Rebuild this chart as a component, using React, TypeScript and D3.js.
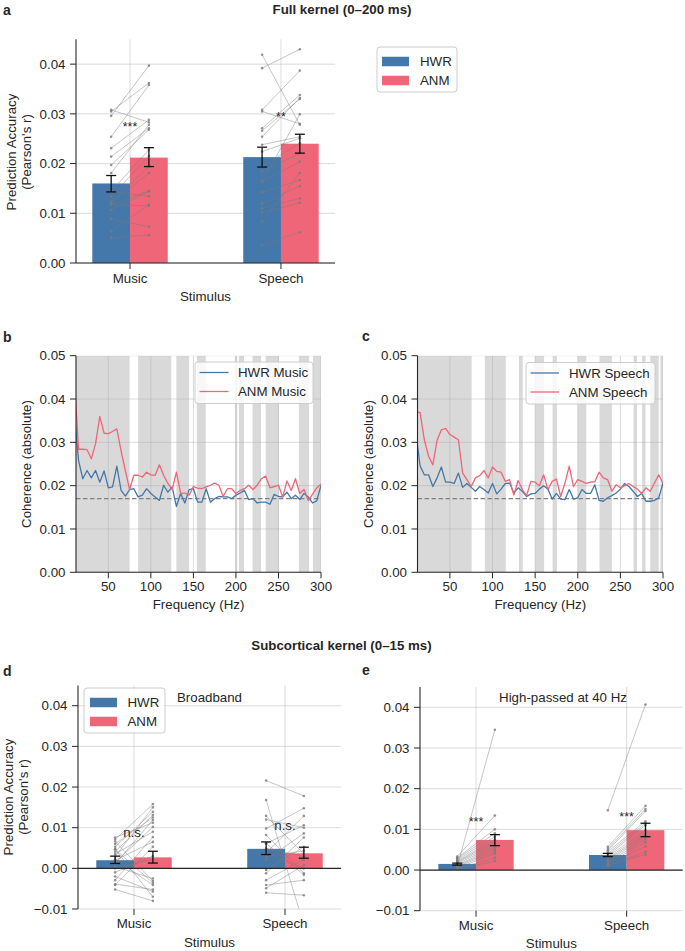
import { useEffect, useRef } from 'react';
import * as d3 from 'd3';

const FONT = "'Liberation Sans', Arial, Helvetica, sans-serif";
const HWR_COLOR = '#4477AA';
const ANM_COLOR = '#EE6677';
const GRID = '#b0b0b0';
const INK = '#262626';
const FS = 13.3;

const stimuli = ['Music', 'Speech'];
const models = ['HWR', 'ANM'];

// ---- a: full kernel (0–200 ms)
const fullHwrMean = [0.016, 0.0213];
const fullAnmMean = [0.0212, 0.024];
const fullHwrCi = [[0.0143, 0.0176], [0.0193, 0.0233]];
const fullAnmCi = [[0.0194, 0.0232], [0.0221, 0.0259]];
// [HWR, ANM] per subject
const fullMusicSubj = [
  [0.0305, 0.0362], [0.0308, 0.0283], [0.0296, 0.0397], [0.0254, 0.0358], [0.0231, 0.0288],
  [0.0214, 0.0271], [0.0197, 0.0268], [0.0181, 0.0278], [0.0144, 0.0228], [0.0134, 0.0215],
  [0.0123, 0.0194], [0.012, 0.0181], [0.0117, 0.0145], [0.0107, 0.0144], [0.0089, 0.0073],
  [0.0064, 0.0117], [0.0051, 0.0056], [0.0144, 0.0134], [0.0117, 0.0115],
];
const fullSpeechSubj = [
  [0.0419, 0.0278], [0.0392, 0.043], [0.0308, 0.0387], [0.0305, 0.028], [0.0271, 0.0338],
  [0.0266, 0.033], [0.0254, 0.0332], [0.0238, 0.0254], [0.0224, 0.0251], [0.0194, 0.0241],
  [0.0184, 0.0221], [0.0164, 0.0204], [0.0142, 0.0167], [0.012, 0.0155], [0.011, 0.013],
  [0.0101, 0.0121], [0.0083, 0.0181], [0.0036, 0.0062], [0.0164, 0.0299],
];
const fullMarks = ['***', '**'];
const fullMarkAt = [0.0265, 0.0285];

// ---- b, c: coherence
const freqs = [
  10, 15, 20, 25, 30, 35, 40, 45, 50, 55, 60, 65, 70, 75, 80, 85, 90, 95, 100, 105, 110, 115, 120,
  125, 130, 135, 140, 145, 150, 155, 160, 165, 170, 175, 180, 185, 190, 195, 200, 205, 210, 215,
  220, 225, 230, 235, 240, 245, 250, 255, 260, 265, 270, 275, 280, 285, 290, 295, 300,
];
const hwrMusicCoh = [
  0.037, 0.0258, 0.0216, 0.0235, 0.0218, 0.0235, 0.0208, 0.0234, 0.0195, 0.0197, 0.0245, 0.0189,
  0.0176, 0.0191, 0.0193, 0.0174, 0.0178, 0.0193, 0.0182, 0.0174, 0.0166, 0.0201, 0.0185, 0.0197,
  0.0152, 0.0182, 0.016, 0.0191, 0.0193, 0.0162, 0.0162, 0.0193, 0.0162, 0.017, 0.0175, 0.0174,
  0.0174, 0.017, 0.0178, 0.0183, 0.0189, 0.0168, 0.017, 0.016, 0.0162, 0.0162, 0.0157, 0.018,
  0.0175, 0.0174, 0.0185, 0.017, 0.0178, 0.0168, 0.0182, 0.0174, 0.016, 0.0165, 0.0201,
];
const anmMusicCoh = [
  0.045, 0.0284, 0.0284, 0.0283, 0.0262, 0.0297, 0.036, 0.0321, 0.032, 0.0325, 0.0331, 0.028,
  0.0235, 0.0191, 0.0224, 0.0224, 0.022, 0.0231, 0.0225, 0.0224, 0.0248, 0.0224, 0.0205, 0.0191,
  0.0231, 0.0182, 0.0183, 0.0178, 0.0198, 0.0194, 0.0193, 0.0197, 0.0201, 0.0206, 0.0201, 0.0175,
  0.0193, 0.0193, 0.0182, 0.0189, 0.0193, 0.0201, 0.0191, 0.0201, 0.0216, 0.0222, 0.0195, 0.0198,
  0.0201, 0.0174, 0.0211, 0.0189, 0.0216, 0.0182, 0.0191, 0.0166, 0.018, 0.0195, 0.0203,
];
const hwrSpeechCoh = [
  0.0325, 0.0246, 0.0225, 0.0225, 0.0198, 0.0218, 0.0243, 0.0208, 0.0208, 0.0205, 0.0229, 0.0196,
  0.0205, 0.0196, 0.0187, 0.0198, 0.0191, 0.0183, 0.0205, 0.0181, 0.0192, 0.0205, 0.0206, 0.0183,
  0.0195, 0.0187, 0.0175, 0.0181, 0.0182, 0.0192, 0.02, 0.0192, 0.0169, 0.0182, 0.0169, 0.0168,
  0.0191, 0.0169, 0.0172, 0.0191, 0.0182, 0.0182, 0.0202, 0.0166, 0.0164, 0.0172, 0.0177, 0.0183,
  0.0192, 0.0205, 0.0198, 0.0187, 0.0175, 0.0182, 0.0164, 0.0164, 0.0166, 0.0172, 0.0206,
];
const anmSpeechCoh = [
  0.0369, 0.0369, 0.0306, 0.0268, 0.0248, 0.0305, 0.0329, 0.0332, 0.0318, 0.0312, 0.0306, 0.0229,
  0.0214, 0.0198, 0.0218, 0.0223, 0.0235, 0.0218, 0.0243, 0.0233, 0.0231, 0.021, 0.0214, 0.0178,
  0.0212, 0.0191, 0.0177, 0.021, 0.0208, 0.02, 0.0225, 0.0191, 0.021, 0.0215, 0.0175, 0.0206,
  0.0245, 0.0198, 0.0214, 0.021, 0.0205, 0.0208, 0.0209, 0.0231, 0.0218, 0.0214, 0.0187, 0.0202,
  0.0195, 0.02, 0.0205, 0.0198, 0.0192, 0.0182, 0.0195, 0.0187, 0.0206, 0.0225, 0.0205,
];
const musicSigBands = [
  [10, 75], [85, 124], [130, 145], [154, 164.5], [199, 201.5], [203.5, 209.5], [219.5, 229.5],
  [235, 250.5], [274, 286], [290.5, 300],
];
const speechSigBands = [
  [10, 75.5], [91, 115.5], [131, 135.5], [150, 160.5], [170.5, 175.5], [200, 210], [225.5, 240],
  [265.5, 269.5], [275.5, 279.5], [285, 295], [297, 300],
];
const chanceLevel = 0.017;
const freqTicks = [50, 100, 150, 200, 250, 300];
const cohTicks = [0, 0.01, 0.02, 0.03, 0.04, 0.05];

// ---- d: subcortical broadband
const broadHwrMean = [0.002, 0.0048];
const broadAnmMean = [0.0027, 0.0037];
const broadHwrCi = [[0.0012, 0.003], [0.0034, 0.0065]];
const broadAnmCi = [[0.0013, 0.0042], [0.0025, 0.0052]];
const broadMusicSubj = [
  [0.0076, 0.0112], [0.0071, 0.0158], [0.0066, -0.0031], [0.006, 0.0125], [0.0053, 0.0139],
  [0.0047, -0.007], [0.0041, 0.0131], [0.0035, 0.009], [0.0029, 0.015], [0.0022, -0.0041],
  [0.0014, 0.0102], [0.0011, 0.0119], [-0.0029, 0.0077], [-0.0039, -0.0052], [-0.0041, 0.0053],
  [-0.0052, -0.008], [0.0004, -0.0025], [-0.001, 0.003], [0.0047, -0.0036], [-0.002, -0.0057],
  [0.0, 0.0022], [0.002, 0.0065],
];
const broadSpeechSubj = [
  [0.0216, 0.0178], [0.0168, -0.014], [0.0129, 0.0035], [0.012, 0.01], [0.0098, 0.0148],
  [0.0082, -0.0012], [0.0061, 0.0106], [0.0049, 0.0029], [0.0038, 0.0129], [0.0029, 0.0043],
  [0.0021, 0.0086], [-0.0004, 0.0053], [-0.0012, 0.0076], [-0.0029, 0.0022], [-0.0041, -0.0029],
  [-0.0049, 0.0008], [-0.006, -0.0066], [0.0038, 0.0], [0.0061, -0.0016],
];
const broadMarks = ['n.s.', 'n.s.'];
const broadMarkAt = [0.0076, 0.0094];

// ---- e: subcortical high-passed at 40 Hz
const hpHwrMean = [0.0015, 0.0037];
const hpAnmMean = [0.0074, 0.0098];
const hpHwrCi = [[0.0012, 0.0017], [0.0033, 0.0041]];
const hpAnmCi = [[0.006, 0.0087], [0.0082, 0.0115]];
const hpMusicSubj = [
  [0.0008, 0.0345], [0.0033, 0.0134], [0.003, 0.01], [0.0028, 0.009], [0.0025, 0.0082],
  [0.0022, 0.0075], [0.002, 0.007], [0.0018, 0.0065], [0.0015, 0.006], [0.0012, 0.0055],
  [0.001, 0.005], [0.0008, 0.0045], [0.0005, 0.004], [0.0003, 0.003], [0.0002, 0.0022],
];
const hpSpeechSubj = [
  [0.0147, 0.0407], [0.0057, 0.0158], [0.0052, 0.015], [0.0048, 0.0145], [0.0045, 0.012],
  [0.004, 0.0115], [0.0036, 0.011], [0.0033, 0.0098], [0.003, 0.009], [0.0027, 0.0085],
  [0.0024, 0.008], [0.002, 0.0075], [0.0017, 0.0068], [0.0014, 0.0058], [0.001, 0.0045],
  [0.0012, 0.0038],
];
const hpMarks = ['***', '***'];
const hpMarkAt = [0.0108, 0.012];

const accTicks = [0, 0.01, 0.02, 0.03, 0.04];
const subTicks = [-0.01, 0, 0.01, 0.02, 0.03, 0.04];

const fmt = (v: number) => d3.format('.2f')(v).replace('-', '\u2212');

function text(g: any, x: number, y: number, s: string, anchor = 'middle', size = FS, weight = 'normal') {
  return g
    .append('text')
    .attr('x', x)
    .attr('y', y)
    .attr('text-anchor', anchor)
    .attr('fill', INK)
    .style('font-size', `${size}px`)
    .style('font-weight', weight)
    .text(s);
}

function rotLabel(g: any, x: number, cy: number, s: string) {
  g.append('text')
    .attr('transform', `translate(${x},${cy}) rotate(-90)`)
    .attr('text-anchor', 'middle')
    .attr('fill', INK)
    .style('font-size', `${FS}px`)
    .text(s);
}

function drawBarPanel(svg: any, c: any) {
  const x = d3.scaleLinear().domain([-c.pad, 1 + c.pad]).range([c.left, c.right]);
  const y = d3.scaleLinear().domain([c.yMin, c.yMax]).range([c.bottom, c.top]);
  const g = svg.append('g');
  const clip = `clip-${c.id}`;
  g.append('clipPath')
    .attr('id', clip)
    .append('rect')
    .attr('x', c.left)
    .attr('y', c.top)
    .attr('width', c.right - c.left)
    .attr('height', c.bottom - c.top);

  // 格線
  c.yTicks.forEach((t: number) => {
    g.append('line')
      .attr('x1', c.left).attr('x2', c.right)
      .attr('y1', y(t)).attr('y2', y(t))
      .attr('stroke', GRID).attr('stroke-opacity', 0.5).attr('stroke-width', 0.9);
  });
  stimuli.forEach((s, i) => {
    g.append('line')
      .attr('x1', x(i)).attr('x2', x(i))
      .attr('y1', c.top).attr('y2', c.bottom)
      .attr('stroke', GRID).attr('stroke-opacity', 0.5).attr('stroke-width', 0.9);
  });

  const series = [
    { vals: c.hwr, ci: c.hwrCi, off: -0.125, color: HWR_COLOR },
    { vals: c.anm, ci: c.anmCi, off: 0.125, color: ANM_COLOR },
  ];
  series.forEach((s) => {
    s.vals.forEach((v: number, i: number) => {
      g.append('rect')
        .attr('x', x(i + s.off - 0.125))
        .attr('width', x(0.25) - x(0))
        .attr('y', Math.min(y(v), y(0)))
        .attr('height', Math.abs(y(v) - y(0)))
        .attr('fill', s.color);
    });
  });

  // 個別受試者
  const sg = g.append('g').attr('clip-path', `url(#${clip})`);
  c.subj.forEach((pairs: number[][], i: number) => {
    pairs.forEach((p) => {
      sg.append('line')
        .attr('x1', x(i - 0.125)).attr('x2', x(i + 0.125))
        .attr('y1', y(p[0])).attr('y2', y(p[1]))
        .attr('stroke', '#7a7a7a').attr('stroke-opacity', 0.55).attr('stroke-width', 0.8);
      p.forEach((v, k) => {
        sg.append('circle')
          .attr('cx', x(i + (k === 0 ? -0.125 : 0.125)))
          .attr('cy', y(v))
          .attr('r', 1.3)
          .attr('fill', '#7a7a7a')
          .attr('fill-opacity', 0.8);
      });
    });
  });

  // 誤差線
  series.forEach((s) => {
    s.ci.forEach((ci: number[], i: number) => {
      const cx = x(i + s.off);
      g.append('line')
        .attr('x1', cx).attr('x2', cx)
        .attr('y1', y(ci[0])).attr('y2', y(ci[1]))
        .attr('stroke', '#111').attr('stroke-width', 1.3);
      ci.forEach((v) => {
        g.append('line')
          .attr('x1', cx - 5).attr('x2', cx + 5)
          .attr('y1', y(v)).attr('y2', y(v))
          .attr('stroke', '#111').attr('stroke-width', 1.3);
      });
    });
  });

  c.marks.forEach((m: string, i: number) => {
    text(g, x(i), y(c.markAt[i]), m, 'middle', m === 'n.s.' ? FS : 12.5);
  });

  // 軸
  g.append('line')
    .attr('x1', c.left).attr('x2', c.right)
    .attr('y1', y(0)).attr('y2', y(0))
    .attr('stroke', INK).attr('stroke-width', 1.2);
  g.append('line')
    .attr('x1', c.left).attr('x2', c.left)
    .attr('y1', c.top).attr('y2', c.bottom)
    .attr('stroke', INK).attr('stroke-width', 1.1);
  c.yTicks.forEach((t: number) => {
    g.append('line')
      .attr('x1', c.left - 6).attr('x2', c.left)
      .attr('y1', y(t)).attr('y2', y(t))
      .attr('stroke', INK).attr('stroke-width', 1);
    text(g, c.left - 10.5, y(t) + FS * 0.35, fmt(t), 'end');
  });
  stimuli.forEach((s, i) => {
    g.append('line')
      .attr('x1', x(i)).attr('x2', x(i))
      .attr('y1', c.bottom).attr('y2', c.bottom + 6)
      .attr('stroke', INK).attr('stroke-width', 1);
    text(g, x(i), c.tickBase, s);
  });
  text(g, (c.left + c.right) / 2, c.labelBase, 'Stimulus');
}

function drawPatchLegend(svg: any, l: any) {
  const g = svg.append('g');
  g.append('rect')
    .attr('x', l.x).attr('y', l.y).attr('width', l.w).attr('height', l.h)
    .attr('rx', 3)
    .attr('fill', 'white').attr('fill-opacity', 0.8)
    .attr('stroke', '#cccccc').attr('stroke-width', 1);
  models.forEach((m, k) => {
    g.append('rect')
      .attr('x', l.patchX).attr('y', l.rows[k] - 4.75)
      .attr('width', 27).attr('height', 9.5)
      .attr('fill', k === 0 ? HWR_COLOR : ANM_COLOR);
    text(g, l.textX, l.rows[k] + FS * 0.35, m, 'start');
  });
}

function drawCohPanel(svg: any, c: any) {
  const x = d3.scaleLinear().domain([12, 300]).range([c.left, c.right]);
  const y = d3.scaleLinear().domain([0, 0.05]).range([c.bottom, c.top]);
  const g = svg.append('g');
  const clip = `clip-${c.id}`;
  g.append('clipPath')
    .attr('id', clip)
    .append('rect')
    .attr('x', c.left).attr('y', c.top)
    .attr('width', c.right - c.left).attr('height', c.bottom - c.top);

  const body = g.append('g').attr('clip-path', `url(#${clip})`);
  c.bands.forEach((b: number[]) => {
    body.append('rect')
      .attr('x', x(b[0])).attr('width', x(b[1]) - x(b[0]))
      .attr('y', c.top).attr('height', c.bottom - c.top)
      .attr('fill', '#d9d9d9');
  });
  cohTicks.forEach((t) => {
    body.append('line')
      .attr('x1', c.left).attr('x2', c.right)
      .attr('y1', y(t)).attr('y2', y(t))
      .attr('stroke', GRID).attr('stroke-opacity', 0.5).attr('stroke-width', 0.9);
  });
  freqTicks.forEach((t) => {
    body.append('line')
      .attr('x1', x(t)).attr('x2', x(t))
      .attr('y1', c.top).attr('y2', c.bottom)
      .attr('stroke', GRID).attr('stroke-opacity', 0.5).attr('stroke-width', 0.9);
  });
  body.append('line')
    .attr('x1', c.left).attr('x2', c.right)
    .attr('y1', y(chanceLevel)).attr('y2', y(chanceLevel))
    .attr('stroke', '#808080').attr('stroke-width', 1.2).attr('stroke-dasharray', '4.5,2.5');

  const line = d3
    .line<number>()
    .x((d, i) => x(freqs[i]))
    .y((d) => y(d));
  [c.hwr, c.anm].forEach((vals: number[], k: number) => {
    body.append('path')
      .attr('d', line(vals))
      .attr('fill', 'none')
      .attr('stroke', k === 0 ? HWR_COLOR : ANM_COLOR)
      .attr('stroke-width', 1.3)
      .attr('stroke-linejoin', 'round');
  });

  // 圖例
  const l = c.legend;
  g.append('rect')
    .attr('x', l.x).attr('y', l.y).attr('width', l.w).attr('height', l.h)
    .attr('rx', 3)
    .attr('fill', 'white').attr('fill-opacity', 0.8)
    .attr('stroke', '#cccccc').attr('stroke-width', 1);
  c.names.forEach((n: string, k: number) => {
    g.append('line')
      .attr('x1', l.lineX[0]).attr('x2', l.lineX[1])
      .attr('y1', l.rows[k]).attr('y2', l.rows[k])
      .attr('stroke', k === 0 ? HWR_COLOR : ANM_COLOR).attr('stroke-width', 1.3);
    text(g, l.textX, l.rows[k] + FS * 0.35, n, 'start');
  });

  // 軸
  g.append('line')
    .attr('x1', c.left).attr('x2', c.right)
    .attr('y1', c.bottom).attr('y2', c.bottom)
    .attr('stroke', INK).attr('stroke-width', 1.1);
  g.append('line')
    .attr('x1', c.left).attr('x2', c.left)
    .attr('y1', c.top).attr('y2', c.bottom)
    .attr('stroke', INK).attr('stroke-width', 1.1);
  cohTicks.forEach((t) => {
    g.append('line')
      .attr('x1', c.left - 6).attr('x2', c.left)
      .attr('y1', y(t)).attr('y2', y(t))
      .attr('stroke', INK);
    text(g, c.left - 10.5, y(t) + FS * 0.35, fmt(t), 'end');
  });
  freqTicks.forEach((t) => {
    g.append('line')
      .attr('x1', x(t)).attr('x2', x(t))
      .attr('y1', c.bottom).attr('y2', c.bottom + 6)
      .attr('stroke', INK);
    text(g, x(t), c.tickBase, String(t));
  });
  text(g, (c.left + c.right) / 2, c.labelBase, 'Frequency (Hz)');
  rotLabel(g, c.ylabelX, (c.top + c.bottom) / 2, 'Coherence (absolute)');
}

export default function App() {
  const svgRef = useRef<SVGSVGElement | null>(null);

  useEffect(() => {
    document.body.style.margin = '0';
    const svg = d3.select(svgRef.current);
    svg.selectAll('*').remove();

    svg.append('rect').attr('width', 685).attr('height', 951).attr('fill', 'white');

    // 標題
    text(svg, 342, 14, 'Full kernel (0\u2013200 ms)', 'middle', FS, 'bold');
    text(svg, 341.5, 649.5, 'Subcortical kernel (0\u201315 ms)', 'middle', FS, 'bold');
    text(svg, 3, 15, 'a', 'start', 14, 'bold');
    text(svg, 3, 342, 'b', 'start', 14, 'bold');
    text(svg, 362, 341, 'c', 'start', 14, 'bold');
    text(svg, 3, 676, 'd', 'start', 14, 'bold');
    text(svg, 362, 675, 'e', 'start', 14, 'bold');

    // a
    drawBarPanel(svg, {
      id: 'a', left: 76, right: 335, top: 39.3, bottom: 263, pad: 0.358,
      yMin: 0, yMax: 0.045, yTicks: accTicks,
      hwr: fullHwrMean, anm: fullAnmMean, hwrCi: fullHwrCi, anmCi: fullAnmCi,
      subj: [fullMusicSubj, fullSpeechSubj], marks: fullMarks, markAt: fullMarkAt,
      tickBase: 282.5, labelBase: 301,
    });
    rotLabel(svg, 15.5, 152, 'Prediction Accuracy');
    rotLabel(svg, 30.5, 152, "(Pearson's r)");
    drawPatchLegend(svg, { x: 377, y: 47, w: 80, h: 45, rows: [61.5, 80.5], patchX: 382, textX: 420 });

    // b, c
    drawCohPanel(svg, {
      id: 'b', left: 76, right: 321, top: 355.7, bottom: 572.3,
      hwr: hwrMusicCoh, anm: anmMusicCoh, bands: musicSigBands,
      names: ['HWR Music', 'ANM Music'],
      legend: { x: 195, y: 362, w: 118, h: 41.5, rows: [372.5, 391.5], lineX: [199.5, 228.5], textX: 238 },
      tickBase: 591, labelBase: 608.5, ylabelX: 31.4,
    });
    drawCohPanel(svg, {
      id: 'c', left: 417.5, right: 663, top: 355.7, bottom: 572.3,
      hwr: hwrSpeechCoh, anm: anmSpeechCoh, bands: speechSigBands,
      names: ['HWR Speech', 'ANM Speech'],
      legend: { x: 526, y: 362.5, w: 129, h: 41.5, rows: [373, 392], lineX: [530.5, 559], textX: 569 },
      tickBase: 591, labelBase: 608.5, ylabelX: 373,
    });

    // d
    drawBarPanel(svg, {
      id: 'd', left: 78, right: 341, top: 685.4, bottom: 909, pad: 0.371,
      yMin: -0.01, yMax: 0.045, yTicks: subTicks,
      hwr: broadHwrMean, anm: broadAnmMean, hwrCi: broadHwrCi, anmCi: broadAnmCi,
      subj: [broadMusicSubj, broadSpeechSubj], marks: broadMarks, markAt: broadMarkAt,
      tickBase: 928.3, labelBase: 946.5,
    });
    rotLabel(svg, 13, 797, 'Prediction Accuracy');
    rotLabel(svg, 27.5, 797, "(Pearson's r)");
    drawPatchLegend(svg, { x: 84, y: 688, w: 81, h: 45, rows: [702.5, 721.5], patchX: 90, textX: 127.5 });
    text(svg, 209.5, 702, 'Broadband');

    // e
    drawBarPanel(svg, {
      id: 'e', left: 420, right: 682.7, top: 687, bottom: 910.7, pad: 0.372,
      yMin: -0.01, yMax: 0.045, yTicks: subTicks,
      hwr: hpHwrMean, anm: hpAnmMean, hwrCi: hpHwrCi, anmCi: hpAnmCi,
      subj: [hpMusicSubj, hpSpeechSubj], marks: hpMarks, markAt: hpMarkAt,
      tickBase: 930, labelBase: 948,
    });
    text(svg, 563, 702, 'High-passed at 40 Hz');
  }, []);

  return (
    <svg
      ref={svgRef}
      width={685}
      height={951}
      style={{ display: 'block', fontFamily: FONT }}
    />
  );
}
